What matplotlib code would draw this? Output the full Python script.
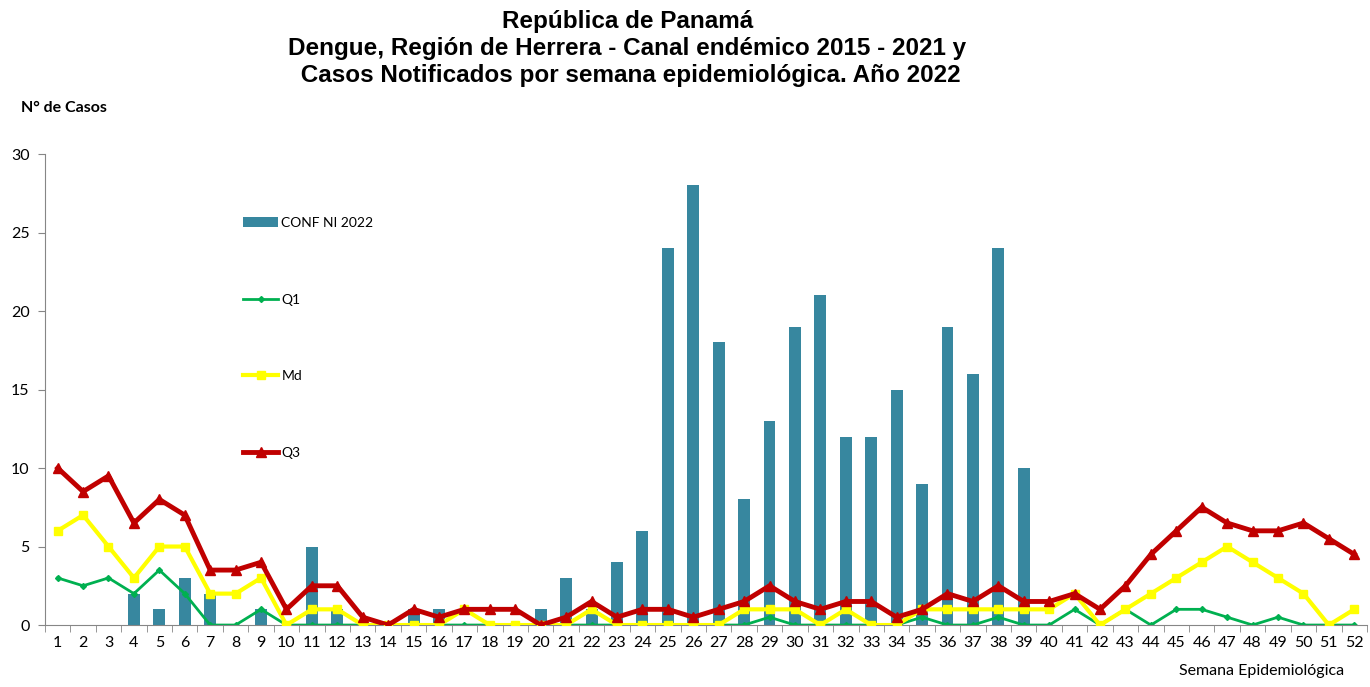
import matplotlib
matplotlib.use('Agg')
import matplotlib.pyplot as plt
import numpy as np

semanas = list(range(1, 53))

conf_2022 = [0, 0, 0, 2, 1, 3, 2, 0, 1, 0, 5, 1, 0, 0, 1, 1, 0, 0, 0, 1,
             3, 1, 4, 6, 24, 28, 18, 8, 13, 19, 21, 12, 12, 15, 9, 19, 16, 24, 10, 0,
             0, 0, 0, 0, 0, 0, 0, 0, 0, 0, 0, 0]

q1 = [3, 2.5, 3, 2, 3.5, 2, 0, 0, 1, 0, 0, 0, 0, 0, 0, 0, 0, 0, 0, 0,
      0, 0, 0, 0, 0, 0, 0, 0, 0.5, 0, 0, 0, 0, 0, 0.5, 0, 0, 0.5, 0, 0,
      1, 0, 1, 0, 1, 1, 0.5, 0, 0.5, 0, 0, 0]

md = [6, 7, 5, 3, 5, 5, 2, 2, 3, 0, 1, 1, 0, 0, 0, 0, 1, 0, 0, 0,
      0, 1, 0, 0, 0, 0, 0, 1, 1, 1, 0, 1, 0, 0, 1, 1, 1, 1, 1, 1,
      2, 0, 1, 2, 3, 4, 5, 4, 3, 2, 0, 1]

q3 = [10, 8.5, 9.5, 6.5, 8, 7, 3.5, 3.5, 4, 1, 2.5, 2.5, 0.5, 0, 1, 0.5, 1, 1, 1, 0,
      0.5, 1.5, 0.5, 1, 1, 0.5, 1, 1.5, 2.5, 1.5, 1, 1.5, 1.5, 0.5, 1, 2, 1.5, 2.5, 1.5, 1.5,
      2, 1, 2.5, 4.5, 6, 7.5, 6.5, 6, 6, 6.5, 5.5, 4.5]

titulo = ('República de Panamá\n'
          'Dengue, Región de Herrera - Canal endémico 2015 - 2021 y\n'
          ' Casos Notificados por semana epidemiológica. Año 2022')

fig = plt.figure(figsize=(13.7, 6.87), dpi=100)
ax = fig.add_axes([0.0328, 0.0902, 0.965, 0.6856])

b = ax.bar(semanas, conf_2022, width=0.47, color='#37879f', label='CONF NI 2022', zorder=1)
l1, = ax.plot(semanas, q1, color='#00b050', lw=2, marker='D', ms=3, label='Q1', zorder=2)
l2, = ax.plot(semanas, md, color='#ffff00', lw=3, marker='s', ms=6, label='Md', zorder=3)
l3, = ax.plot(semanas, q3, color='#c00000', lw=3.5, marker='^', ms=7, label='Q3', zorder=4)

ax.set_xlim(0.5, 52.5)
ax.set_ylim(0, 30)
ax.set_yticks(range(0, 31, 5))
ax.set_xticks(semanas)
ax.set_xticks(np.arange(0.5, 53, 1), minor=True)
ax.tick_params(axis='x', which='major', length=0, pad=8, labelsize=11.5)
ax.tick_params(axis='x', which='minor', length=5, color='#868686')
ax.tick_params(axis='y', length=5, color='#868686', labelsize=11.5, pad=6)
for lab in ax.get_xticklabels() + ax.get_yticklabels():
    lab.set_family('Lato')

for s in ['top', 'right']:
    ax.spines[s].set_visible(False)
for s in ['left', 'bottom']:
    ax.spines[s].set_color('#868686')

leg = ax.legend([b, l1, l2, l3], ['CONF NI 2022', 'Q1', 'Md', 'Q3'],
                loc='upper left', bbox_to_anchor=(0.1405, 0.893), frameon=False,
                labelspacing=4.65, handlelength=2.5, handletextpad=0.25,
                prop={'family': 'Lato', 'size': 10})

fig.text(0.458, 0.985, titulo, ha='center', va='top', fontsize=17.5,
         fontweight='bold', family='Liberation Sans', linespacing=1.2)
fig.text(0.015, 0.843, 'N° de Casos', ha='left', va='center', fontsize=11.5,
         fontweight='bold', family='Lato')
fig.text(0.981, 0.013, 'Semana Epidemiológica', ha='right', va='bottom',
         fontsize=11.5, family='Lato')

fig.savefig('out.png', dpi=100)
